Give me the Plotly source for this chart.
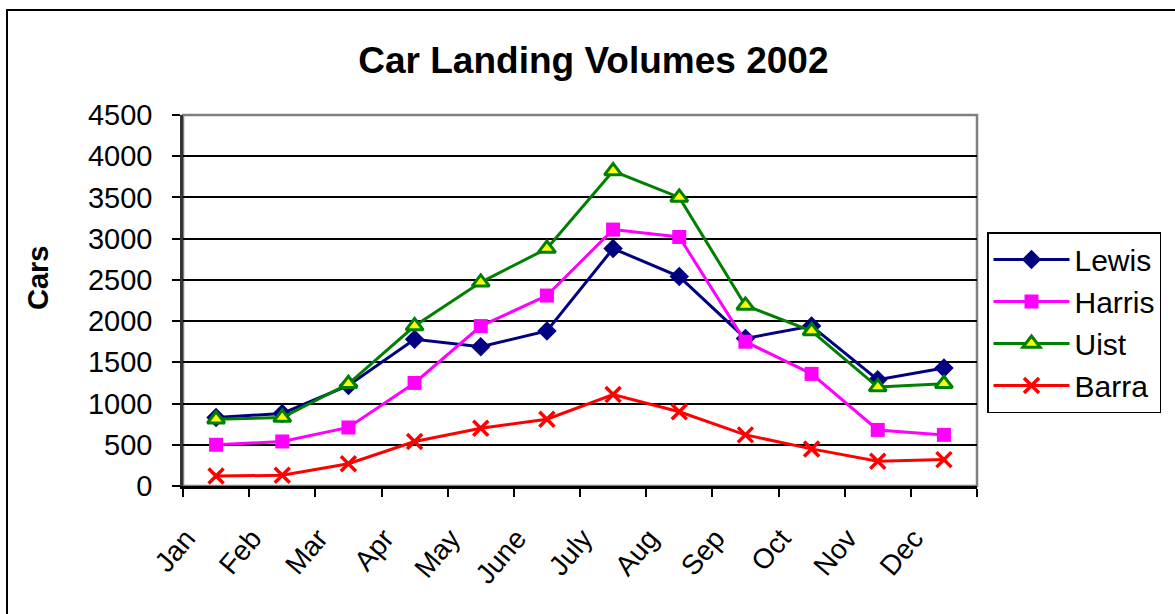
import plotly.graph_objects as go

months = ["Jan", "Feb", "Mar", "Apr", "May", "June", "July", "Aug", "Sep", "Oct", "Nov", "Dec"]
lewis = [830, 880, 1220, 1780, 1690, 1880, 2880, 2540, 1790, 1940, 1290, 1430]
harris = [500, 540, 710, 1250, 1940, 2310, 3110, 3020, 1750, 1360, 680, 620]
uist = [810, 830, 1240, 1940, 2470, 2880, 3820, 3500, 2190, 1880, 1200, 1240]
barra = [120, 130, 270, 540, 700, 810, 1110, 900, 620, 450, 300, 320]
y_ticks = [0, 500, 1000, 1500, 2000, 2500, 3000, 3500, 4000, 4500]

FONT = "Liberation Sans, Arial, sans-serif"

fig = go.Figure()
fig.add_trace(go.Scatter(x=months, y=lewis, name="Lewis", mode="lines+markers",
                         line=dict(color="#000080", width=3),
                         marker=dict(symbol="diamond", size=15, color="#000080")))
fig.add_trace(go.Scatter(x=months, y=harris, name="Harris", mode="lines+markers",
                         line=dict(color="#FF00FF", width=3),
                         marker=dict(symbol="square", size=14, color="#FF00FF")))
fig.add_trace(go.Scatter(x=months, y=uist, name="Uist", mode="lines+markers",
                         line=dict(color="#008000", width=3),
                         marker=dict(symbol="triangle-up", size=15, color="#FFFF00",
                                     line=dict(color="#008000", width=3))))
fig.add_trace(go.Scatter(x=months, y=barra, name="Barra", mode="lines+markers",
                         line=dict(color="#FF0000", width=3),
                         marker=dict(symbol="x-thin", size=15, color="#FF0000",
                                     line=dict(color="#FF0000", width=3.5))))

W, H = 1175, 614
L, R, T, B = 183, 977, 115, 486
pw, ph = R - L, B - T

def px(xp):
    return (xp - L) / pw

def py(yp):
    return (B - yp) / ph

fig.update_layout(
    width=W, height=H, autosize=False,
    margin=dict(l=L, r=W - R, t=T, b=H - B, pad=0),
    paper_bgcolor="white", plot_bgcolor="white",
    font=dict(family=FONT, color="black", size=28),
    title=dict(text="<b>Car Landing Volumes 2002</b>", x=0.505, xanchor="center",
               y=1 - 60 / H, yanchor="middle", font=dict(size=37, family=FONT)),
    showlegend=True,
    legend=dict(x=px(987), xanchor="left", y=py(232), yanchor="top",
                bordercolor="black", borderwidth=1.5, bgcolor="white",
                font=dict(size=30, family=FONT), itemwidth=76,
                tracegroupgap=2),
    xaxis=dict(type="category", categoryorder="array", categoryarray=months,
               tickson="boundaries", ticks="outside", ticklen=8, tickwidth=1.5,
               tickcolor="black", showgrid=False, showline=True, linecolor="black",
               linewidth=2.5, tickangle=-50, ticklabelstandoff=22, ticklabelshift=-30,
               tickfont=dict(size=28, family=FONT), range=[-0.5, 11.5], zeroline=False),
    yaxis=dict(range=[0, 4500], tickvals=y_ticks, ticks="outside", ticklen=8,
               tickwidth=1.5, tickcolor="black", showgrid=True, gridcolor="black",
               gridwidth=1.5, showline=True, linecolor="#333333", linewidth=2.5,
               ticklabelstandoff=14, tickfont=dict(size=29, family=FONT), zeroline=False),
    annotations=[dict(text="<b>Cars</b>", textangle=-90, xref="paper", yref="paper",
                      x=px(38), y=py(278), xanchor="center", yanchor="middle",
                      showarrow=False, font=dict(size=29, family=FONT))],
    shapes=[
        dict(type="rect", xref="paper", yref="paper", x0=0, x1=1, y0=0, y1=1,
             line=dict(color="#808080", width=2.5), layer="below"),
        dict(type="rect", xref="paper", yref="paper", x0=px(7), x1=px(1185),
             y0=py(625), y1=py(10), line=dict(color="black", width=2), layer="below"),
    ],
)

fig.write_html("out.html", config={"displayModeBar": False},
               post_script="document.body.style.margin='0';document.body.style.overflow='hidden';")
